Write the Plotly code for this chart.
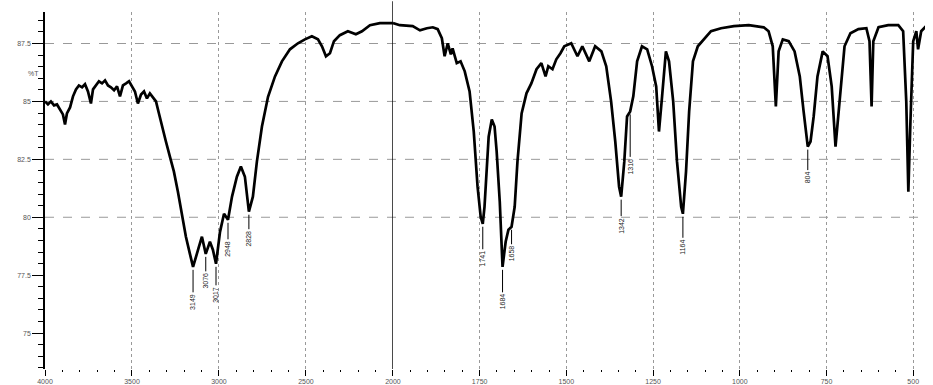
import plotly.graph_objects as go

# IR spectrum, high-wavenumber section (4000-2000 cm-1)
wn_hi = [4000, 3983, 3966, 3948, 3931, 3914, 3897, 3885, 3874, 3856, 3839, 3822, 3805, 3787,
         3770, 3753, 3736, 3724, 3707, 3690, 3672, 3655, 3638, 3621, 3603, 3586, 3569, 3552,
         3534, 3517, 3500, 3483, 3466, 3448, 3431, 3414, 3397, 3379, 3362, 3345, 3328, 3305,
         3282, 3259, 3236, 3213, 3190, 3167, 3149, 3120, 3098, 3076, 3052, 3035, 3017, 2994,
         2971, 2948, 2925, 2897, 2874, 2851, 2828, 2805, 2782, 2753, 2718, 2678, 2638, 2592,
         2546, 2506, 2466, 2431, 2408, 2385, 2362, 2339, 2305, 2259, 2213, 2178, 2132, 2075,
         2000]
t_hi = [85.0, 84.87, 85.0, 84.83, 84.87, 84.65, 84.44, 84.0, 84.48, 84.74, 85.22, 85.52, 85.69,
        85.61, 85.74, 85.43, 84.91, 85.52, 85.69, 85.87, 85.78, 85.91, 85.69, 85.61, 85.48,
        85.65, 85.22, 85.69, 85.78, 85.87, 85.65, 85.43, 84.91, 85.3, 85.43, 85.13, 85.35,
        85.17, 85.0, 84.48, 83.92, 83.27, 82.62, 81.97, 81.1, 80.15, 79.16, 78.42, 77.86,
        78.6, 79.16, 78.42, 78.94, 78.6, 77.99, 79.37, 80.15, 79.89, 80.89, 81.75, 82.19,
        81.75, 80.24, 80.89, 82.4, 83.92, 85.2, 86.08, 86.73, 87.25, 87.51, 87.68, 87.81,
        87.68, 87.38, 86.95, 87.08, 87.6, 87.86, 88.03, 87.9, 88.03, 88.29, 88.38, 88.38]

# Fingerprint section (2000-450 cm-1), drawn at double scale
wn_lo = [2000, 1980, 1943, 1922, 1902, 1885, 1871, 1859, 1851, 1842, 1833, 1828, 1816, 1805,
         1793, 1779, 1767, 1756, 1747, 1741, 1736, 1730, 1724, 1715, 1707, 1701, 1692, 1684,
         1675, 1667, 1658, 1649, 1641, 1629, 1615, 1601, 1586, 1572, 1560, 1552, 1540, 1529,
         1517, 1506, 1486, 1468, 1454, 1434, 1417, 1399, 1385, 1371, 1359, 1348, 1342, 1333,
         1325, 1316, 1307, 1296, 1282, 1267, 1253, 1241, 1233, 1224, 1213, 1204, 1192, 1181,
         1169, 1164, 1155, 1146, 1135, 1121, 1103, 1083, 1054, 1017, 974, 931, 917, 905, 896,
         888, 876, 859, 842, 827, 816, 804, 796, 787, 776, 761, 747, 735, 724, 712, 698, 681,
         658, 635, 626, 620, 615, 600, 572, 543, 529, 520, 514, 508, 500, 491, 486, 477, 463,
         451]
t_lo = [88.38, 88.29, 88.25, 88.07, 88.16, 88.2, 88.12, 87.73, 86.95, 87.51, 87.03, 87.29,
        86.65, 86.73, 86.3, 85.43, 83.7, 81.32, 80.02, 79.72, 80.45, 81.97, 83.48, 84.22,
        83.92, 82.84, 80.67, 77.86, 78.94, 79.46, 79.59, 80.45, 82.4, 84.48, 85.35, 85.78,
        86.39, 86.65, 86.08, 86.52, 86.39, 86.82, 87.08, 87.38, 87.51, 86.95, 87.38, 86.73,
        87.38, 87.16, 86.52, 85.0, 83.27, 81.32, 80.89, 82.4, 84.35, 84.57, 85.22, 86.73,
        87.38, 87.25, 86.52, 85.65, 83.7, 85.22, 87.16, 86.73, 85.0, 82.4, 80.45, 80.15,
        81.97, 84.57, 86.73, 87.38, 87.68, 88.03, 88.16, 88.25, 88.29, 88.2, 88.03, 87.38,
        84.78, 87.16, 87.68, 87.6, 87.16, 86.08, 84.57, 83.05, 83.27, 84.35, 86.08, 87.16,
        86.95, 85.65, 83.05, 85.0, 87.38, 87.94, 88.12, 88.16, 87.6, 84.78, 87.6, 88.2,
        88.29, 88.29, 88.03, 85.0, 81.1, 84.13, 87.6, 88.03, 87.25, 88.03, 88.25, 88.25]

# Labelled band positions (cm-1) and label offsets below the band (px)
peaks_hi = [3149, 3076, 3017, 2948, 2828]
drop_hi = [22, 14, 18, 16, 14]
peaks_lo = [1741, 1684, 1658, 1342, 1316, 1164, 804]
drop_lo = [22, 22, 14, 16, 42, 20, 18]

y_ticks = [87.5, 85, 82.5, 80, 77.5, 75]
y_grid = [87.5, 85, 82.5, 80]
x_ticks_hi = [4000, 3500, 3000, 2500, 2000]
x_ticks_lo = [1750, 1500, 1250, 1000, 750, 500]

# 4000-2000 cm-1 occupies the left part of the plot, the rest is expanded 2x
split = 351.1 / 888

fig = go.Figure()
line = dict(color="black", width=2.7)
fig.add_trace(go.Scatter(x=wn_hi, y=t_hi, mode="lines", line=line, xaxis="x", yaxis="y",
                         showlegend=False, hoverinfo="skip"))
fig.add_trace(go.Scatter(x=wn_lo, y=t_lo, mode="lines", line=line, xaxis="x2", yaxis="y",
                         showlegend=False, hoverinfo="skip"))

tick_font = dict(family="Liberation Sans", size=7, color="#555")

annotations = []
for wns, drops, tvals, wlist, xref in ((peaks_hi, drop_hi, t_hi, wn_hi, "x"),
                                       (peaks_lo, drop_lo, t_lo, wn_lo, "x2")):
    for w, d in zip(wns, drops):
        t = tvals[wlist.index(w)]
        annotations.append(dict(x=w, y=t, xref=xref, yref="y", text=str(w),
                                textangle=-90, showarrow=True, arrowhead=0,
                                arrowwidth=1, arrowcolor="black", ax=0, ay=d + 13,
                                standoff=3, font=dict(family="Liberation Sans", size=7,
                                                      color="#222")))
annotations.append(dict(x=-0.022, y=86.2, xref="paper", yref="y", text="%T",
                        showarrow=False, font=tick_font))

shapes = []
for g in y_grid:
    shapes.append(dict(type="line", xref="paper", yref="y", x0=0, x1=1, y0=g, y1=g,
                       line=dict(color="#999", width=1, dash="dash"), layer="below"))
shapes.append(dict(type="line", xref="x", yref="paper", x0=2000, x1=2000, y0=0, y1=1.03,
                   line=dict(color="black", width=1.3)))

fig.update_layout(
    width=933, height=385,
    margin=dict(l=45, r=0, t=12, b=13),
    plot_bgcolor="white", paper_bgcolor="white",
    xaxis=dict(domain=[0, split], range=[4000, 2000], tickvals=x_ticks_hi,
               ticks="outside", ticklen=6, tickcolor="black", tickwidth=1,
               showline=False, zeroline=False, showgrid=True, gridcolor="#999",
               griddash="dot", gridwidth=1, tickfont=tick_font, anchor="y",
               minor=dict(dtick=100, tick0=0, ticks="outside", ticklen=2,
                          tickcolor="black", showgrid=False)),
    xaxis2=dict(domain=[split, 1], range=[2000, 466], tickvals=x_ticks_lo,
                ticks="outside", ticklen=6, tickcolor="black", tickwidth=1,
                showline=False, zeroline=False, showgrid=True, gridcolor="#999",
                griddash="dot", gridwidth=1, tickfont=tick_font, anchor="y",
                minor=dict(dtick=50, tick0=0, ticks="outside", ticklen=2,
                           tickcolor="black", showgrid=False)),
    yaxis=dict(range=[73.45, 88.86], tickvals=y_ticks, ticktext=[str(v) for v in y_ticks],
               ticks="outside", ticklen=11, tickcolor="black", tickwidth=1,
               showline=True, linecolor="black", linewidth=1.5, showgrid=False,
               zeroline=False, tickfont=tick_font, anchor="x",
               minor=dict(dtick=0.5, tick0=75, ticks="outside", ticklen=5,
                          tickcolor="black", showgrid=False)),
    annotations=annotations,
    shapes=shapes,
)

fig.write_html("out.html")
